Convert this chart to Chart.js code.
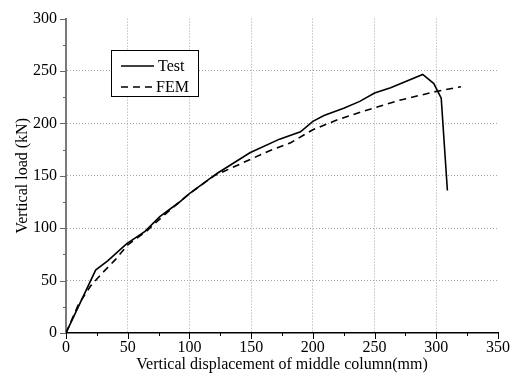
<!DOCTYPE html>
<html>
<head>
<meta charset="utf-8">
<script src="https://cdn.jsdelivr.net/npm/chart.js@4/dist/chart.umd.min.js"></script>
<style>
  html, body { margin: 0; padding: 0; background: #fff; }
  #wrap { width: 518px; height: 381px; }
</style>
</head>
<body>
<div id="wrap"><canvas id="c" width="518" height="381"></canvas></div>
<script>
// Load–displacement curves of the middle column
const testDisp = [0, 24, 34, 49, 64, 76, 92, 100, 122, 149, 173, 190, 200, 209, 225, 238, 250, 263, 289, 298, 304, 309];
const testLoad = [0, 60, 69, 85, 97, 111, 125, 133, 152, 172, 185, 192, 202, 207.5, 214.5, 221, 229, 234, 246.7, 238, 224, 136];

const femDisp = [0, 10, 20, 30, 40, 50, 65, 80, 100, 120, 150, 165, 182, 200, 220, 250, 270, 298, 320];
const femLoad = [0, 27, 45, 58, 70, 84, 97, 113, 133, 150, 166, 174, 181.5, 194, 203.5, 215, 222, 230, 235];

const xTickLabels = [0, 50, 100, 150, 200, 250, 300, 350];
const yTickLabels = [0, 50, 100, 150, 200, 250, 300];

const SERIF = "'Liberation Serif', 'Times New Roman', serif";

const toPoints = (xs, ys) => xs.map((x, i) => ({ x, y: ys[i] }));

// Outward major/minor tick marks on both axes
const tickMarks = {
  id: 'tickMarks',
  afterDraw(chart) {
    const { ctx, scales: { x, y } } = chart;
    ctx.save();
    ctx.lineWidth = 1;
    ctx.strokeStyle = '#000';
    for (let v = 0; v <= 350; v += 25) {
      const px = Math.round(x.getPixelForValue(v)) + 0.5;
      const len = v % 50 === 0 ? 6 : 3;
      ctx.beginPath();
      ctx.moveTo(px, y.bottom);
      ctx.lineTo(px, y.bottom + len);
      ctx.stroke();
    }
    ctx.strokeStyle = '#666';
    for (let v = 0; v <= 300; v += 25) {
      const py = Math.round(y.getPixelForValue(v)) + 0.5;
      const len = v % 50 === 0 ? 6 : 3;
      ctx.beginPath();
      ctx.moveTo(x.left, py);
      ctx.lineTo(x.left - len, py);
      ctx.stroke();
    }
    ctx.restore();
  }
};

// Framed legend in the upper-left of the plot
const boxedLegend = {
  id: 'boxedLegend',
  afterDraw(chart) {
    const { ctx } = chart;
    const bx = 111, by = 50, bw = 87, bh = 46;
    ctx.save();
    ctx.fillStyle = '#fff';
    ctx.fillRect(bx, by, bw, bh);
    ctx.strokeStyle = '#000';
    ctx.lineWidth = 1;
    ctx.strokeRect(bx + 0.5, by + 0.5, bw, bh);
    ctx.font = '16px ' + SERIF;
    ctx.fillStyle = '#000';
    ctx.textBaseline = 'middle';
    chart.data.datasets.forEach((ds, i) => {
      const ly = by + 16 + i * 21;
      ctx.beginPath();
      ctx.lineWidth = ds.borderWidth;
      ctx.strokeStyle = ds.borderColor;
      ctx.setLineDash(ds.borderDash || []);
      ctx.moveTo(bx + 10, ly);
      ctx.lineTo(bx + 43, ly);
      ctx.stroke();
      ctx.setLineDash([]);
      ctx.fillText(ds.label, bx + 45 + (i === 0 ? 2 : 0), ly + 1);
    });
    ctx.restore();
  }
};

const gridColor = (ctx, maxV) => {
  const v = ctx.tick ? ctx.tick.value : null;
  if (v === null || v % 50 !== 0 || v === 0 || v >= maxV) return 'rgba(0,0,0,0)';
  return '#a5a5a5';
};

new Chart(document.getElementById('c'), {
  type: 'line',
  data: {
    datasets: [
      {
        label: 'Test',
        data: toPoints(testDisp, testLoad),
        borderColor: '#000',
        borderWidth: 1.6,
        pointRadius: 0,
        tension: 0,
        fill: false
      },
      {
        label: 'FEM',
        data: toPoints(femDisp, femLoad),
        borderColor: '#000',
        borderWidth: 1.6,
        borderDash: [7, 5],
        pointRadius: 0,
        tension: 0,
        fill: false
      }
    ]
  },
  options: {
    responsive: false,
    animation: false,
    devicePixelRatio: 1,
    layout: { padding: { top: 14, right: 20, left: 0, bottom: 0 } },
    plugins: {
      legend: { display: false },
      tooltip: { enabled: false }
    },
    scales: {
      x: {
        type: 'linear',
        min: 0,
        max: 350,
        afterFit: s => { s.height = 48; },
        ticks: {
          stepSize: 25,
          autoSkip: false,
          maxRotation: 0,
          padding: 5,
          color: '#000',
          font: { family: SERIF, size: 16 },
          callback: v => (xTickLabels.includes(v) ? String(v) : '')
        },
        grid: {
          drawTicks: false,
          lineWidth: 1,
          color: c => gridColor(c, 350)
        },
        border: { display: true, color: '#000', width: 1.5, dash: [1, 2] },
        title: {
          display: true,
          text: 'Vertical displacement of middle column(mm)',
          color: '#000',
          font: { family: SERIF, size: 16 },
          padding: { top: 0, bottom: 7 }
        }
      },
      y: {
        type: 'linear',
        min: 0,
        max: 300,
        afterFit: s => { s.width = 66; },
        ticks: {
          stepSize: 25,
          autoSkip: false,
          padding: 9,
          color: '#000',
          font: { family: SERIF, size: 16 },
          callback: v => (yTickLabels.includes(v) ? String(v) : '')
        },
        grid: {
          drawTicks: false,
          lineWidth: 1,
          color: c => gridColor(c, 300)
        },
        border: { display: true, color: '#7a7a7a', width: 2, dash: [1, 2] },
        title: {
          display: true,
          text: 'Vertical load (kN)',
          color: '#000',
          font: { family: SERIF, size: 16 },
          padding: { top: 13, bottom: 0 }
        }
      }
    }
  },
  plugins: [tickMarks, boxedLegend]
});
</script>
</body>
</html>
